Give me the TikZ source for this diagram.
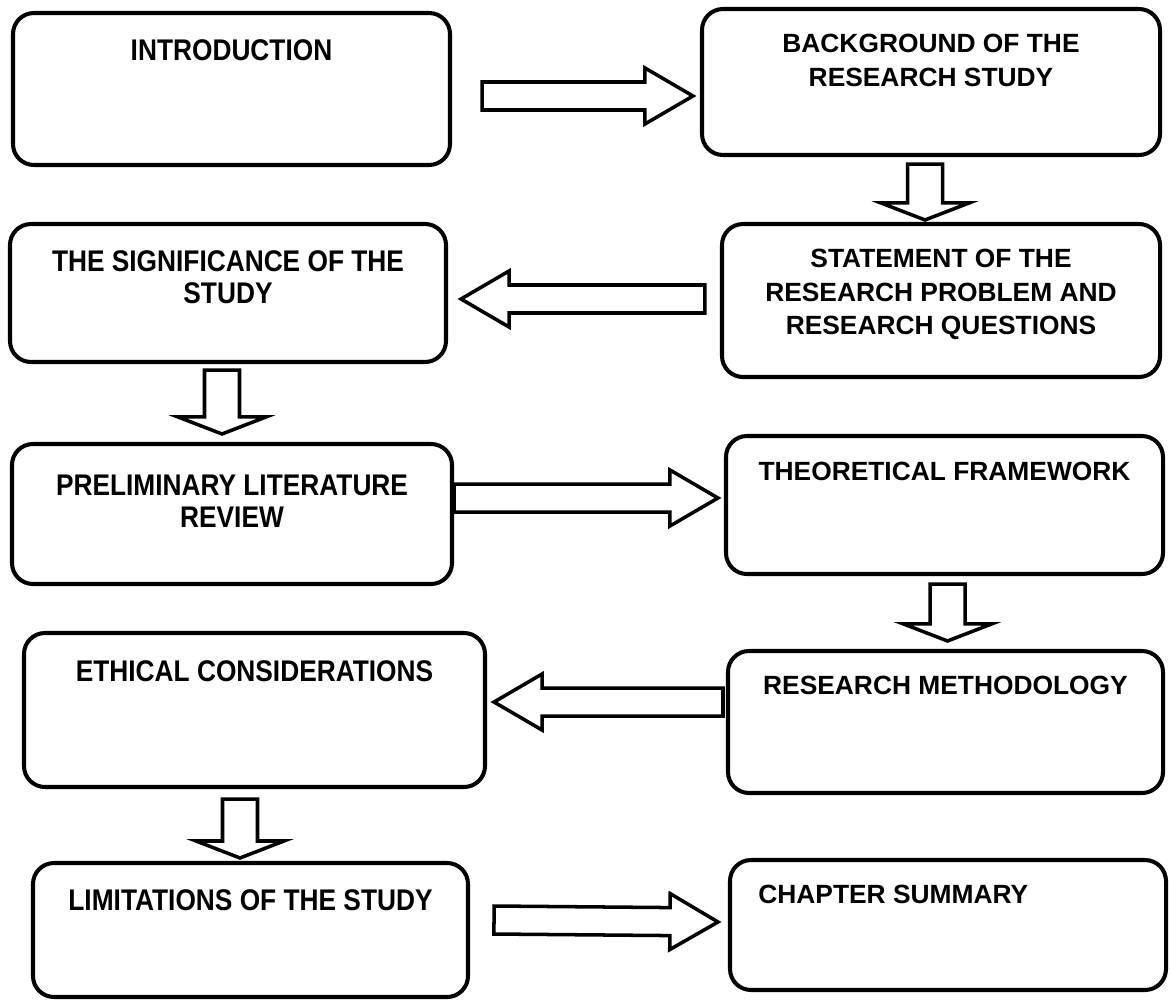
\documentclass[tikz,border=0pt]{standalone}
\usepackage{fontspec}
\setmainfont{Liberation Sans}
\newfontfamily\narrowfont[FakeStretch=0.88]{Liberation Sans}
\usetikzlibrary{calc,positioning}

\tikzset{
  box/.style={draw, line width=2.3pt, rounded corners=0.42cm, inner sep=0pt},
  rtxt/.style={font=\fontsize{15}{19}\selectfont\bfseries, align=center, inner sep=0pt, anchor=north},
  ltxt/.style={font=\narrowfont\fontsize{17}{18.2}\selectfont\bfseries, align=center, inner sep=0pt, anchor=north},
  blk/.style={draw, line width=2pt, fill=white, line join=miter}
}

% shaft half width, head half width, head length, start, end
\newcommand{\blockarrow}[5]{%
  \coordinate (bs) at #4;
  \coordinate (be) at #5;
  \coordinate (bh) at ($(be)!#3!(bs)$);
  \draw[blk] ($(bs)!#1!90:(be)$) -- ($(bh)!#1!-90:(bs)$) -- ($(bh)!#2!-90:(bs)$) -- (be)
    -- ($(bh)!#2!90:(bs)$) -- ($(bh)!#1!90:(bs)$) -- ($(bs)!#1!-90:(be)$) -- cycle;
}
\newcommand{\harrow}[2]{\blockarrow{0.28cm}{0.56cm}{0.96cm}{#1}{#2}}
\newcommand{\varrow}[2]{\blockarrow{0.35cm}{0.88cm}{0.34cm}{#1}{#2}}

\begin{document}
\begin{tikzpicture}
\useasboundingbox (0,0) rectangle (23.42,-20.12);

\node[box, minimum width=8.74cm, minimum height=3.04cm] (intro) at (4.63,-1.78) {};
\node[box, minimum width=9.16cm, minimum height=2.92cm] (backgr) at (18.62,-1.64) {};
\node[box, minimum width=8.72cm, minimum height=2.76cm] (signif) at (4.56,-5.86) {};
\node[box, minimum width=8.76cm, minimum height=3.06cm] (statem) at (18.82,-6.01) {};
\node[box, minimum width=8.8cm, minimum height=2.8cm] (prelim) at (4.64,-10.28) {};
\node[box, minimum width=8.74cm, minimum height=2.76cm] (theor) at (18.89,-10.1) {};
\node[box, minimum width=9.22cm, minimum height=3.08cm] (ethic) at (5.09,-14.2) {};
\node[box, minimum width=8.7cm, minimum height=2.84cm] (method) at (18.91,-14.44) {};
\node[box, minimum width=8.7cm, minimum height=2.68cm] (limit) at (5.01,-18.6) {};
\node[box, minimum width=8.72cm, minimum height=2.6cm] (summ) at (18.96,-18.5) {};

\node[ltxt] (intro-t) at ([yshift=-0.56cm]intro.north) {INTRODUCTION};
\node[rtxt] (backgr-t) at ([yshift=-0.54cm]backgr.north) {BACKGROUND OF THE\\RESEARCH STUDY};
\node[ltxt] (signif-t) at ([yshift=-0.56cm]signif.north) {THE SIGNIFICANCE OF THE\\STUDY};
\node[rtxt] (statem-t) at ([yshift=-0.54cm]statem.north) {STATEMENT OF THE\\RESEARCH PROBLEM AND\\RESEARCH QUESTIONS};
\node[ltxt] (prelim-t) at ([yshift=-0.66cm]prelim.north) {PRELIMINARY LITERATURE\\REVIEW};
\node[rtxt] (theor-t) at ([yshift=-0.56cm]theor.north) {THEORETICAL FRAMEWORK};
\node[ltxt] (ethic-t) at ([yshift=-0.58cm]ethic.north) {ETHICAL CONSIDERATIONS};
\node[rtxt] (method-t) at ([yshift=-0.54cm]method.north) {RESEARCH METHODOLOGY};
\node[ltxt] (limit-t) at ([yshift=-0.56cm]limit.north) {LIMITATIONS OF THE STUDY};
\node[rtxt, anchor=north west] (summ-t) at ([xshift=0.6cm,yshift=-0.54cm]summ.north west) {CHAPTER SUMMARY};

\harrow{([shift={(0.6,-0.14)}]intro.east)}{([shift={(-0.14,-0.28)}]backgr.west)}
\varrow{([shift={(-0.12,-0.14)}]backgr.south)}{([shift={(-0.32,0.04)}]statem.north)}
\harrow{([shift={(-0.3,0.03)}]statem.west)}{([shift={(0.26,-0.12)}]signif.east)}
\varrow{([shift={(-0.12,-0.12)}]signif.south)}{([shift={(-0.2,0.16)}]prelim.north)}
\harrow{([shift={(0,0.32)}]prelim.east)}{([shift={(-0.12,0.14)}]theor.west)}
\varrow{([shift={(0.06,-0.16)}]theor.south)}{([shift={(0.04,0.16)}]method.north)}
\harrow{([shift={(-0.06,0.4)}]method.west)}{([shift={(0.14,0.16)}]ethic.east)}
\varrow{([shift={(-0.29,-0.2)}]ethic.south)}{([shift={(-0.21,0.06)}]limit.north)}
\harrow{([shift={(0.48,0.2)}]limit.east)}{([shift={(-0.2,0.06)}]summ.west)}
\end{tikzpicture}
\end{document}
